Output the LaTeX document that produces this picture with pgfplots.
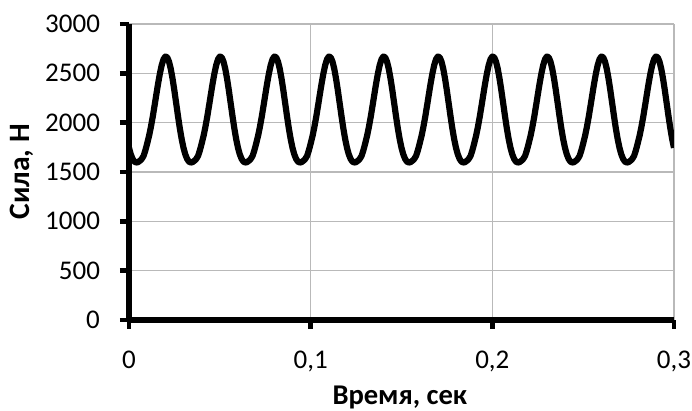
\documentclass[border=0pt]{standalone}
\usepackage{fontspec}
\setmainfont{Carlito}
\usepackage{pgfplots}
\pgfplotsset{compat=1.18}
\begin{document}
\begin{tikzpicture}
\begin{axis}[
  scale only axis, width=272.5pt, height=148pt,
  xmin=0, xmax=0.3, ymin=0, ymax=3000,
  axis lines*=left,
  axis line style={line width=3pt, black},
  xtick={0,0.1,0.2,0.3}, xticklabels={0,{0,1},{0,2},{0,3}},
  ytick={0,500,1000,1500,2000,2500,3000},
  tick align=outside, major tick length=4.5pt,
  tick style={line width=2.4pt, black},
  grid=major, grid style={gray!55, line width=0.6pt},
  /pgf/number format/assume math mode=true,
  /pgf/number format/set thousands separator={},
  tick label style={font=\fontsize{13.5}{15}\selectfont},
  yticklabel style={xshift=-6.5pt},
  xticklabel style={yshift=-7.5pt},
  xlabel={Время, сек}, ylabel={Сила, Н},
  xlabel style={font=\fontsize{14.3}{17}\selectfont\bfseries, at={(axis description cs:0.497,-0.262)}, anchor=center},
  ylabel style={font=\fontsize{14.8}{17}\selectfont\bfseries, at={(axis description cs:-0.196,0.5)}, anchor=center},
]
\addplot[black, line width=3.1pt, line join=round] coordinates {
(0.000,1745)(0.001,1678)(0.002,1632)(0.003,1605)(0.004,1596)
(0.005,1600)(0.006,1614)(0.007,1632)(0.008,1662)(0.009,1718)(0.010,1788)(0.011,1862)(0.012,1951)(0.013,2052)(0.014,2164)(0.015,2280)(0.016,2394)(0.017,2497)(0.018,2583)(0.019,2642)(0.020,2670)(0.021,2663)(0.022,2620)(0.023,2545)(0.024,2443)(0.025,2323)(0.026,2193)(0.027,2063)(0.028,1940)(0.029,1833)(0.030,1745)(0.031,1678)(0.032,1632)(0.033,1605)(0.034,1596)
(0.035,1600)(0.036,1614)(0.037,1632)(0.038,1662)(0.039,1718)(0.040,1788)(0.041,1862)(0.042,1951)(0.043,2052)(0.044,2164)(0.045,2280)(0.046,2394)(0.047,2497)(0.048,2583)(0.049,2642)(0.050,2670)(0.051,2663)(0.052,2620)(0.053,2545)(0.054,2443)(0.055,2323)(0.056,2193)(0.057,2063)(0.058,1940)(0.059,1833)(0.060,1745)(0.061,1678)(0.062,1632)(0.063,1605)(0.064,1596)
(0.065,1600)(0.066,1614)(0.067,1632)(0.068,1662)(0.069,1718)(0.070,1788)(0.071,1862)(0.072,1951)(0.073,2052)(0.074,2164)(0.075,2280)(0.076,2394)(0.077,2497)(0.078,2583)(0.079,2642)(0.080,2670)(0.081,2663)(0.082,2620)(0.083,2545)(0.084,2443)(0.085,2323)(0.086,2193)(0.087,2063)(0.088,1940)(0.089,1833)(0.090,1745)(0.091,1678)(0.092,1632)(0.093,1605)(0.094,1596)
(0.095,1600)(0.096,1614)(0.097,1632)(0.098,1662)(0.099,1718)(0.100,1788)(0.101,1862)(0.102,1951)(0.103,2052)(0.104,2164)(0.105,2280)(0.106,2394)(0.107,2497)(0.108,2583)(0.109,2642)(0.110,2670)(0.111,2663)(0.112,2620)(0.113,2545)(0.114,2443)(0.115,2323)(0.116,2193)(0.117,2063)(0.118,1940)(0.119,1833)(0.120,1745)(0.121,1678)(0.122,1632)(0.123,1605)(0.124,1596)
(0.125,1600)(0.126,1614)(0.127,1632)(0.128,1662)(0.129,1718)(0.130,1788)(0.131,1862)(0.132,1951)(0.133,2052)(0.134,2164)(0.135,2280)(0.136,2394)(0.137,2497)(0.138,2583)(0.139,2642)(0.140,2670)(0.141,2663)(0.142,2620)(0.143,2545)(0.144,2443)(0.145,2323)(0.146,2193)(0.147,2063)(0.148,1940)(0.149,1833)(0.150,1745)(0.151,1678)(0.152,1632)(0.153,1605)(0.154,1596)
(0.155,1600)(0.156,1614)(0.157,1632)(0.158,1662)(0.159,1718)(0.160,1788)(0.161,1862)(0.162,1951)(0.163,2052)(0.164,2164)(0.165,2280)(0.166,2394)(0.167,2497)(0.168,2583)(0.169,2642)(0.170,2670)(0.171,2663)(0.172,2620)(0.173,2545)(0.174,2443)(0.175,2323)(0.176,2193)(0.177,2063)(0.178,1940)(0.179,1833)(0.180,1745)(0.181,1678)(0.182,1632)(0.183,1605)(0.184,1596)
(0.185,1600)(0.186,1614)(0.187,1632)(0.188,1662)(0.189,1718)(0.190,1788)(0.191,1862)(0.192,1951)(0.193,2052)(0.194,2164)(0.195,2280)(0.196,2394)(0.197,2497)(0.198,2583)(0.199,2642)(0.200,2670)(0.201,2663)(0.202,2620)(0.203,2545)(0.204,2443)(0.205,2323)(0.206,2193)(0.207,2063)(0.208,1940)(0.209,1833)(0.210,1745)(0.211,1678)(0.212,1632)(0.213,1605)(0.214,1596)
(0.215,1600)(0.216,1614)(0.217,1632)(0.218,1662)(0.219,1718)(0.220,1788)(0.221,1862)(0.222,1951)(0.223,2052)(0.224,2164)(0.225,2280)(0.226,2394)(0.227,2497)(0.228,2583)(0.229,2642)(0.230,2670)(0.231,2663)(0.232,2620)(0.233,2545)(0.234,2443)(0.235,2323)(0.236,2193)(0.237,2063)(0.238,1940)(0.239,1833)(0.240,1745)(0.241,1678)(0.242,1632)(0.243,1605)(0.244,1596)
(0.245,1600)(0.246,1614)(0.247,1632)(0.248,1662)(0.249,1718)(0.250,1788)(0.251,1862)(0.252,1951)(0.253,2052)(0.254,2164)(0.255,2280)(0.256,2394)(0.257,2497)(0.258,2583)(0.259,2642)(0.260,2670)(0.261,2663)(0.262,2620)(0.263,2545)(0.264,2443)(0.265,2323)(0.266,2193)(0.267,2063)(0.268,1940)(0.269,1833)(0.270,1745)(0.271,1678)(0.272,1632)(0.273,1605)(0.274,1596)
(0.275,1600)(0.276,1614)(0.277,1632)(0.278,1662)(0.279,1718)(0.280,1788)(0.281,1862)(0.282,1951)(0.283,2052)(0.284,2164)(0.285,2280)(0.286,2394)(0.287,2497)(0.288,2583)(0.289,2642)(0.290,2670)(0.291,2663)(0.292,2620)(0.293,2545)(0.294,2443)(0.295,2323)(0.296,2193)(0.297,2063)(0.298,1940)(0.299,1833)(0.300,1745)
};
\end{axis}
\pgfresetboundingbox
\path[use as bounding box] (-64.5pt,-45.5pt) rectangle (281.5pt,160pt);
\end{tikzpicture}
\end{document}
